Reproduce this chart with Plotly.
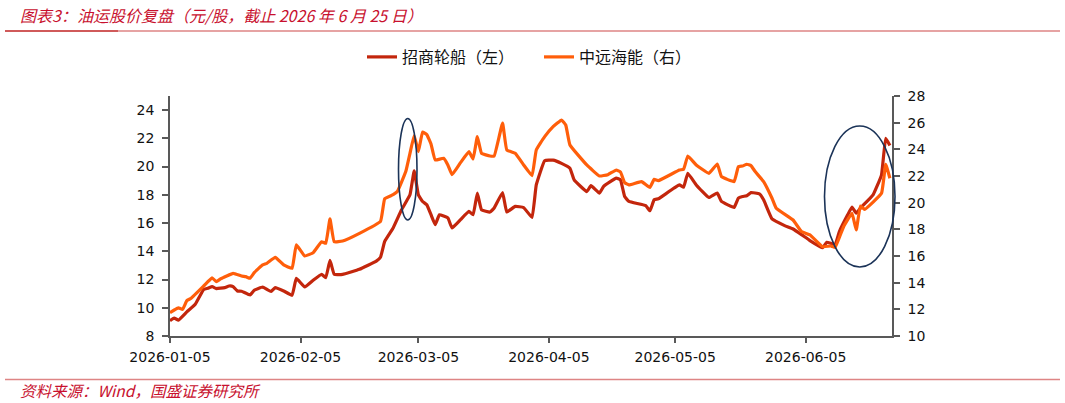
import plotly.graph_objects as go

# ---------------- data ----------------
cmhk_dates = [
    "2026-01-05", "2026-01-06", "2026-01-07", "2026-01-09", "2026-01-11", "2026-01-13", "2026-01-14",
    "2026-01-15", "2026-01-16", "2026-01-18", "2026-01-19", "2026-01-20", "2026-01-21", "2026-01-22",
    "2026-01-24", "2026-01-25", "2026-01-27", "2026-01-28", "2026-01-29", "2026-01-30", "2026-02-01",
    "2026-02-03", "2026-02-04", "2026-02-06", "2026-02-08", "2026-02-10", "2026-02-11", "2026-02-12",
    "2026-02-13", "2026-02-15", "2026-02-19", "2026-02-23", "2026-02-24", "2026-02-25", "2026-02-27",
    "2026-03-01", "2026-03-03", "2026-03-04", "2026-03-05", "2026-03-06", "2026-03-07", "2026-03-08",
    "2026-03-09", "2026-03-10", "2026-03-12", "2026-03-13", "2026-03-15", "2026-03-17", "2026-03-18",
    "2026-03-19", "2026-03-20", "2026-03-22", "2026-03-23", "2026-03-25", "2026-03-26", "2026-03-28",
    "2026-03-30", "2026-04-01", "2026-04-02", "2026-04-04", "2026-04-06", "2026-04-08", "2026-04-10",
    "2026-04-11", "2026-04-14", "2026-04-15", "2026-04-17", "2026-04-18", "2026-04-21", "2026-04-22",
    "2026-04-23", "2026-04-24", "2026-04-28", "2026-04-29", "2026-04-30", "2026-05-01", "2026-05-06",
    "2026-05-07", "2026-05-08", "2026-05-10", "2026-05-13", "2026-05-15", "2026-05-16", "2026-05-19",
    "2026-05-20", "2026-05-21", "2026-05-22", "2026-05-23", "2026-05-25", "2026-05-26", "2026-05-28",
    "2026-05-31", "2026-06-02", "2026-06-04", "2026-06-06", "2026-06-09", "2026-06-10", "2026-06-12",
    "2026-06-13", "2026-06-15", "2026-06-16", "2026-06-17", "2026-06-18", "2026-06-21", "2026-06-23",
    "2026-06-24", "2026-06-25",
]
cmhk_values = [
    9.08, 9.27, 9.13, 9.71, 10.25, 11.3, 11.38,
    11.5, 11.36, 11.43, 11.54, 11.5, 11.19, 11.17,
    10.91, 11.24, 11.47, 11.3, 11.15, 11.43, 11.19,
    10.89, 12.08, 11.47, 11.95, 12.37, 12.13, 13.35,
    12.37, 12.37, 12.72, 13.3, 13.58, 14.7, 15.65,
    16.94, 18.0, 19.69, 18.0, 17.53, 17.3, 16.59,
    15.89, 16.59, 16.36, 15.65, 16.24, 16.83, 16.59,
    18.12, 16.94, 16.78, 17.06, 18.16, 16.78, 17.18,
    17.1, 16.4, 18.7, 20.42, 20.46, 20.23, 19.88,
    19.06, 18.23, 18.65, 18.12, 18.6, 19.18, 19.06,
    17.88, 17.53, 17.23, 16.87, 17.65, 17.72, 18.7,
    18.54, 19.53, 18.7, 17.81, 18.12, 17.53, 17.11,
    17.77, 17.88, 17.93, 18.16, 18.07, 17.65, 16.29,
    15.82, 15.58, 15.18, 14.76, 14.25, 14.64, 14.48,
    15.4, 16.6, 17.13, 16.7, 17.06, 18.0, 19.4,
    22.0, 21.5,
]

cosco_dates = [
    "2026-01-05", "2026-01-06", "2026-01-07", "2026-01-08", "2026-01-09", "2026-01-10", "2026-01-13",
    "2026-01-14", "2026-01-15", "2026-01-16", "2026-01-17", "2026-01-20", "2026-01-22", "2026-01-23",
    "2026-01-24", "2026-01-25", "2026-01-27", "2026-01-28", "2026-01-30", "2026-02-01", "2026-02-03",
    "2026-02-04", "2026-02-06", "2026-02-08", "2026-02-10", "2026-02-11", "2026-02-12", "2026-02-13",
    "2026-02-15", "2026-02-19", "2026-02-24", "2026-02-25", "2026-02-27", "2026-02-28", "2026-03-02",
    "2026-03-03", "2026-03-04", "2026-03-05", "2026-03-06", "2026-03-07", "2026-03-08", "2026-03-09",
    "2026-03-11", "2026-03-12", "2026-03-13", "2026-03-15", "2026-03-17", "2026-03-18", "2026-03-19",
    "2026-03-20", "2026-03-22", "2026-03-23", "2026-03-25", "2026-03-26", "2026-03-28", "2026-03-30",
    "2026-04-01", "2026-04-02", "2026-04-04", "2026-04-06", "2026-04-08", "2026-04-09", "2026-04-10",
    "2026-04-14", "2026-04-17", "2026-04-19", "2026-04-21", "2026-04-22", "2026-04-23", "2026-04-24",
    "2026-04-27", "2026-04-29", "2026-04-30", "2026-05-01", "2026-05-06", "2026-05-07", "2026-05-08",
    "2026-05-10", "2026-05-13", "2026-05-15", "2026-05-16", "2026-05-19", "2026-05-20", "2026-05-21",
    "2026-05-22", "2026-05-23", "2026-05-24", "2026-05-26", "2026-05-28", "2026-05-29", "2026-06-02",
    "2026-06-04", "2026-06-06", "2026-06-09", "2026-06-11", "2026-06-12", "2026-06-14", "2026-06-16",
    "2026-06-17", "2026-06-18", "2026-06-19", "2026-06-23", "2026-06-24", "2026-06-25",
]
cosco_values = [
    11.75, 11.95, 12.12, 12.0, 12.65, 12.83, 13.75,
    14.07, 14.37, 14.07, 14.28, 14.7, 14.5, 14.45,
    14.33, 14.75, 15.33, 15.45, 15.9, 15.33, 15.08,
    16.83, 16.0, 16.25, 17.07, 16.95, 18.78, 17.07,
    17.12, 17.7, 18.6, 20.3, 20.6, 20.83, 22.33,
    23.7, 25.03, 23.83, 25.3, 25.1, 24.4, 23.2,
    23.33, 22.83, 22.1, 23.0, 23.83, 23.28, 24.95,
    23.7, 23.5, 23.5, 25.96, 23.95, 23.7, 22.83,
    22.03, 23.95, 24.95, 25.7, 26.2, 25.83, 24.33,
    22.83, 22.0, 22.1, 22.45, 22.3, 21.5, 21.33,
    21.58, 21.15, 21.75, 21.65, 22.45, 22.5, 23.5,
    22.83, 22.2, 22.9, 21.95, 21.58, 22.7, 22.75,
    22.88, 22.78, 22.33, 21.58, 20.33, 19.58, 18.7,
    17.83, 17.58, 16.7, 16.75, 16.65, 18.2, 19.2,
    17.95, 19.75, 19.5, 20.7, 22.88, 21.83,
]

x_tick_vals = ["2026-01-05", "2026-02-05", "2026-03-05", "2026-04-05", "2026-05-05", "2026-06-05"]
series_names = ["招商轮船（左）", "中远海能（右）"]
title_text = "图表3：油运股价复盘（元/股，截止 2026 年 6 月 25 日）"
source_text = "资料来源：Wind，国盛证券研究所"

# ---------------- layout geometry (pixels) ----------------
W, H = 1065, 403
L, R, T, B = 170, 892, 96, 336
PW, PH = R - L, B - T


def px(xp):
    return (xp - L) / PW


def py(yp):
    return (B - yp) / PH


DARK_RED = "#C3260C"
ORANGE = "#FF5E0A"
NAVY = "#1B3358"
AXIS = "#595959"
RED_TXT = "#C8102E"
CJK = "Noto Sans CJK SC"
TICKFONT = dict(family="DejaVu Sans", size=14, color="#111111")

fig = go.Figure()
fig.add_trace(go.Scatter(
    x=cmhk_dates, y=cmhk_values, name=series_names[0], mode="lines",
    line=dict(color=DARK_RED, width=3.2, shape="spline", smoothing=0.3), yaxis="y",
))
fig.add_trace(go.Scatter(
    x=cosco_dates, y=cosco_values, name=series_names[1], mode="lines",
    line=dict(color=ORANGE, width=3.2, shape="spline", smoothing=0.3), yaxis="y2",
))

shapes = [
    # red rule under title
    dict(type="line", xref="paper", yref="paper", x0=px(5), x1=px(1060), y0=py(31), y1=py(31),
         line=dict(color="#DE8585", width=1.5)),
    dict(type="line", xref="paper", yref="paper", x0=px(5), x1=px(118), y0=py(31), y1=py(31),
         line=dict(color="#D05A5A", width=2)),
    # red rule above source
    dict(type="line", xref="paper", yref="paper", x0=px(5), x1=px(1060), y0=py(379.5), y1=py(379.5),
         line=dict(color="#DE8585", width=1.5)),
    # highlight ellipses
    dict(type="circle", xref="paper", yref="paper", x0=px(398.5), x1=px(417), y0=py(220), y1=py(118.5),
         line=dict(color=NAVY, width=1.6)),
    dict(type="circle", xref="paper", yref="paper", x0=px(824.5), x1=px(895), y0=py(267), y1=py(126),
         line=dict(color=NAVY, width=1.6)),
]

annotations = [
    dict(text=title_text, xref="paper", yref="paper", x=px(18), y=py(15), xanchor="left", yanchor="middle",
         showarrow=False, font=dict(family=CJK, size=16, color=RED_TXT, style="italic")),
    dict(text=source_text, xref="paper", yref="paper", x=px(18), y=py(390), xanchor="left", yanchor="middle",
         showarrow=False, font=dict(family=CJK, size=15.5, color=RED_TXT, style="italic")),
]

fig.update_layout(
    width=W, height=H,
    margin=dict(l=L, r=W - R, t=T, b=H - B, pad=0),
    paper_bgcolor="white", plot_bgcolor="white",
    showlegend=True,
    legend=dict(orientation="h", x=px(362), xanchor="left", y=py(57), yanchor="middle",
                font=dict(family=CJK, size=16, color="#111111"),
                entrywidth=132, entrywidthmode="pixels",
                bgcolor="rgba(0,0,0,0)", tracegroupgap=0),
    xaxis=dict(type="date", range=["2026-01-05", "2026-06-25 12:00"], tickvals=x_tick_vals,
               tickformat="%Y-%m-%d", showline=True, linecolor=AXIS, linewidth=1.5,
               ticks="outside", ticklen=5, tickcolor=AXIS, tickwidth=1.5, showgrid=False,
               zeroline=False, tickfont=TICKFONT, ticklabelstandoff=2),
    yaxis=dict(range=[8, 25], tick0=8, dtick=2, showline=True, linecolor=AXIS, linewidth=1.5,
               ticks="outside", ticklen=6, tickcolor=AXIS, tickwidth=1.5, showgrid=False,
               zeroline=False, tickfont=TICKFONT, ticklabelstandoff=5),
    yaxis2=dict(range=[10, 28], tick0=10, dtick=2, overlaying="y", side="right", showline=True,
                linecolor=AXIS, linewidth=1.5, ticks="outside", ticklen=6, tickcolor=AXIS,
                tickwidth=1.5, showgrid=False, zeroline=False, tickfont=TICKFONT,
                ticklabelstandoff=5),
    shapes=shapes,
    annotations=annotations,
    font=dict(family=CJK),
)

fig.write_html("out.html")
